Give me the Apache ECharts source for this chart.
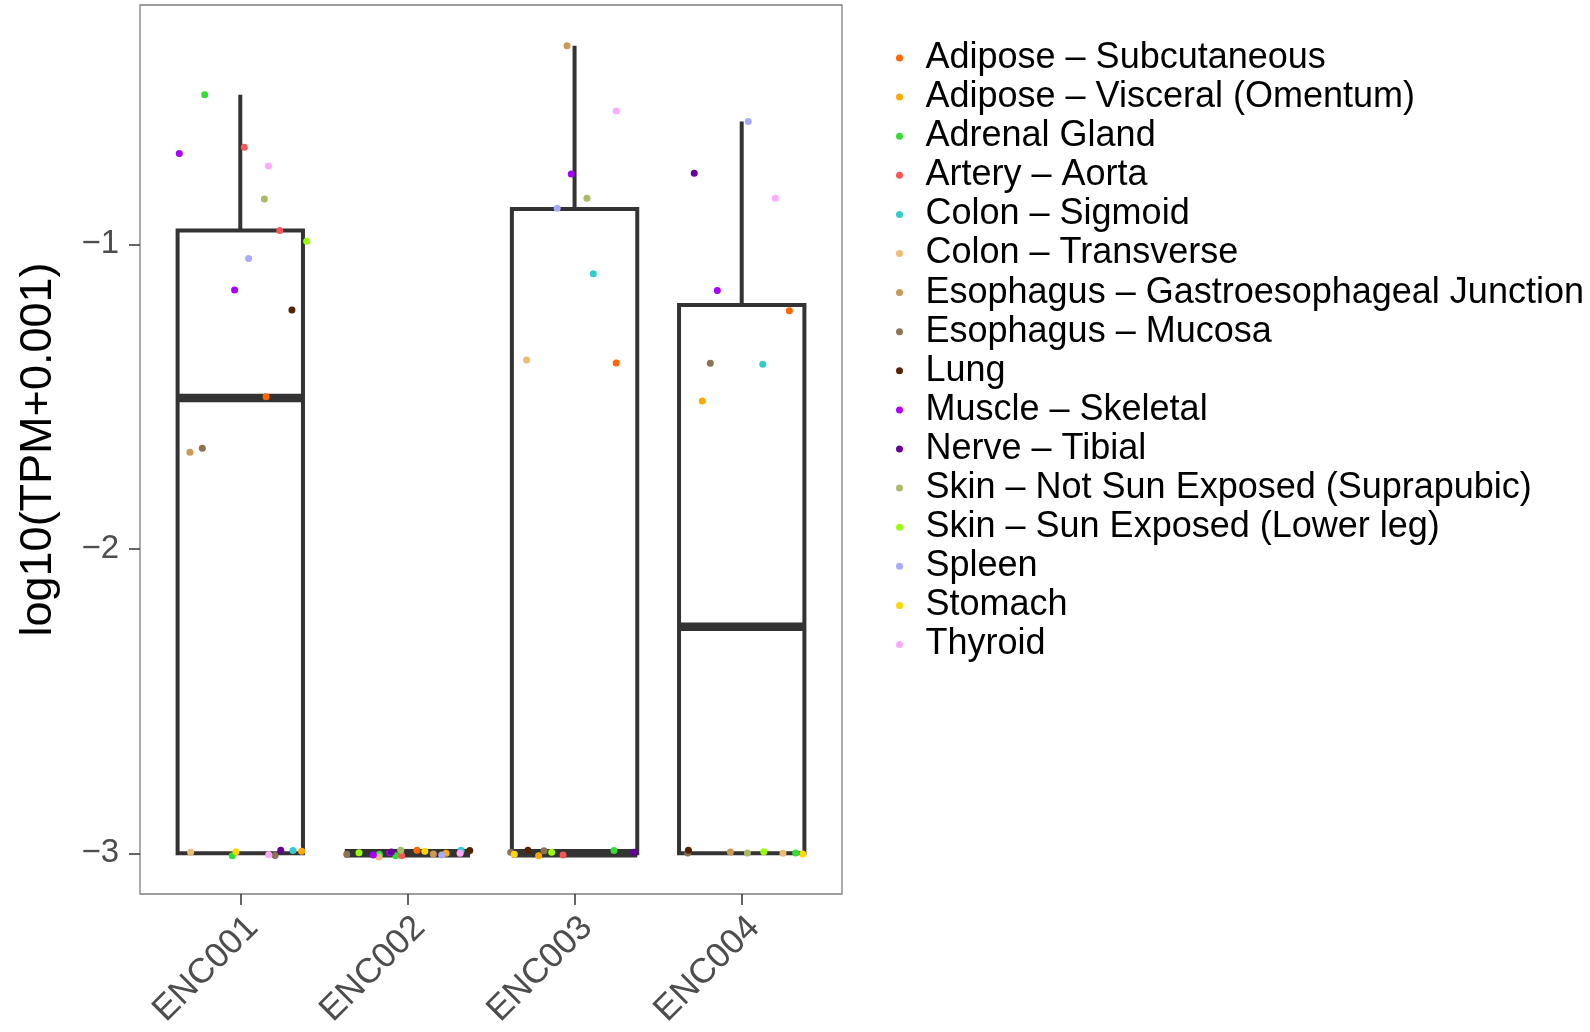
<!DOCTYPE html>
<html>
<head>
<meta charset="utf-8">
<title>log10(TPM+0.001) by ENC</title>
<script src="https://cdn.jsdelivr.net/npm/echarts@6/dist/echarts.min.js"></script>
<style>
  html, body { margin: 0; padding: 0; background: #ffffff; }
  #chart { width: 1590px; height: 1032px; }
</style>
</head>
<body>
<div id="chart"></div>
<script>
// Groups on the x axis
const categories = ['ENC001', 'ENC002', 'ENC003', 'ENC004'];

// Tissues (legend order) and their colours
const tissues = [
  'Adipose – Subcutaneous',
  'Adipose – Visceral (Omentum)',
  'Adrenal Gland',
  'Artery – Aorta',
  'Colon – Sigmoid',
  'Colon – Transverse',
  'Esophagus – Gastroesophageal Junction',
  'Esophagus – Mucosa',
  'Lung',
  'Muscle – Skeletal',
  'Nerve – Tibial',
  'Skin – Not Sun Exposed (Suprapubic)',
  'Skin – Sun Exposed (Lower leg)',
  'Spleen',
  'Stomach',
  'Thyroid'
];
const tissueColors = [
  '#FF6600', '#FFAA00', '#33DD33', '#FF5555', '#33CCCC', '#EEBB77',
  '#CC9955', '#8B7355', '#552200', '#AA00FF', '#660099', '#AABB66',
  '#99FF00', '#AAAAFF', '#FFD700', '#FFAAFF'
];

// Box statistics per group
const boxMin    = [-3, -3, -3, -3];
const boxQ1     = [-3, -3, -3, -3];
const boxMedian = [-1.505, -3, -3, -2.256];
const boxQ3     = [-0.955, -3, -0.884, -1.199];
const boxMax    = [-0.509, -3, -0.348, -0.597];

// Jittered samples per group: [tissue index, horizontal jitter, log10(TPM+0.001)]
const enc001Points = [
  [2, -0.213, -0.509], [9, -0.365, -0.702], [3, 0.024, -0.681], [15, 0.168, -0.743],
  [11, 0.144, -0.851], [3, 0.236, -0.955], [12, 0.397, -0.990], [13, 0.050, -1.047],
  [9, -0.034, -1.150], [8, 0.309, -1.216], [0, 0.154, -1.501], [7, -0.227, -1.670],
  [6, -0.301, -1.683],
  [5, -0.297, -2.997], [14, -0.026, -2.995], [2, -0.048, -3.008], [15, 0.170, -3.005],
  [7, 0.208, -3.007], [10, 0.242, -2.990], [4, 0.315, -2.991], [1, 0.367, -2.993]
];
const enc002Points = [
  [7, -0.363, -3.003], [12, -0.290, -2.998], [9, -0.204, -3.006], [5, -0.170, -3.012],
  [2, -0.168, -3.003], [9, -0.106, -2.998], [10, -0.096, -2.996], [2, -0.070, -3.008],
  [11, -0.040, -2.990], [3, -0.034, -3.008], [0, 0.057, -2.990], [14, 0.104, -2.993],
  [6, 0.155, -3.002], [13, 0.205, -3.006], [1, 0.231, -3.000], [4, 0.321, -2.990],
  [15, 0.315, -3.000], [8, 0.373, -2.991]
];
const enc003Points = [
  [6, -0.045, -0.348], [15, 0.249, -0.562], [9, -0.020, -0.769], [11, 0.074, -0.849],
  [13, -0.104, -0.882], [4, 0.112, -1.097], [5, -0.287, -1.380], [0, 0.249, -1.390],
  [7, -0.382, -2.997], [14, -0.361, -3.003], [8, -0.279, -2.990], [1, -0.215, -3.008],
  [7, -0.183, -2.992], [12, -0.137, -2.997], [3, -0.069, -3.006], [2, 0.236, -2.991],
  [10, 0.354, -2.997]
];
const enc004Points = [
  [13, 0.039, -0.597], [10, -0.284, -0.767], [15, 0.201, -0.849], [9, -0.146, -1.152],
  [0, 0.285, -1.218], [7, -0.188, -1.391], [4, 0.126, -1.394], [1, -0.236, -1.515],
  [8, -0.319, -2.990], [7, -0.323, -2.999], [6, -0.068, -2.996], [11, 0.034, -2.999],
  [12, 0.132, -2.995], [5, 0.247, -3.000], [2, 0.323, -2.999], [14, 0.365, -3.002]
];
const pointsByGroup = [enc001Points, enc002Points, enc003Points, enc004Points];

// Y tick labels
const yTicks = [-3, -2, -1];

// ---------------------------------------------------------------
const FONT = "'Liberation Sans', Arial, Helvetica, sans-serif";
const BOX_HALF = 0.375;
const INK = '#333333';

const boxData = categories.map((c, i) =>
  [i, boxMin[i], boxQ1[i], boxMedian[i], boxQ3[i], boxMax[i]]);

// one scatter series per tissue, so the legend lists each tissue
const scatterSeries = tissues.map((name, t) => {
  const data = [];
  pointsByGroup.forEach((pts, g) => {
    pts.forEach(p => { if (p[0] === t) data.push([g + p[1], p[2]]); });
  });
  return {
    name: name,
    type: 'scatter',
    data: data,
    symbol: 'circle',
    symbolSize: 7,
    itemStyle: { color: tissueColors[t], opacity: 1 },
    emphasis: { disabled: true },
    z: 3
  };
});

const chart = echarts.init(document.getElementById('chart'), null, { renderer: 'canvas' });

chart.setOption({
  backgroundColor: '#ffffff',
  animation: false,
  textStyle: { fontFamily: FONT },
  grid: {
    left: 140, top: 5, width: 702, height: 889,
    show: true, borderColor: '#7f7f7f', borderWidth: 1.3, backgroundColor: '#ffffff'
  },
  legend: {
    orient: 'vertical',
    left: 896, top: 40,
    padding: 0,
    itemWidth: 42, itemHeight: 7, itemGap: 3.1,
    icon: 'circle',
    selectedMode: false,
    textStyle: { fontSize: 36, color: '#000000', fontFamily: FONT, lineHeight: 36 },
    data: tissues
  },
  xAxis: {
    type: 'value',
    min: -0.6, max: 3.6,
    axisLine: { show: false, onZero: false },
    splitLine: { show: false },
    axisTick: {
      show: true, customValues: [0, 1, 2, 3], length: 11,
      lineStyle: { color: INK, width: 1.5 }
    },
    axisLabel: {
      customValues: [0, 1, 2, 3],
      rotate: 45, margin: 16,
      align: 'right', verticalAlign: 'top',
      fontSize: 35, color: '#4D4D4D', fontFamily: FONT,
      formatter: v => categories[Math.round(v)]
    }
  },
  yAxis: {
    type: 'value',
    min: -3.1337, max: -0.2142,
    axisLine: { show: false, onZero: false },
    splitLine: { show: false },
    axisTick: {
      show: true, customValues: yTicks, length: 11,
      lineStyle: { color: INK, width: 1.5 }
    },
    axisLabel: {
      customValues: yTicks, margin: 21,
      fontSize: 33, color: '#4D4D4D', fontFamily: FONT,
      formatter: v => String(v).replace('-', '\u2212')
    },
    name: 'log10(TPM+0.001)',
    nameLocation: 'middle',
    nameRotate: 90,
    nameGap: 79,
    nameTextStyle: { fontSize: 45, color: '#000000', fontFamily: FONT }
  },
  series: [
    {
      type: 'custom',
      name: 'box',
      data: boxData,
      z: 2,
      silent: true,
      renderItem: function (params, api) {
        const i = api.value(0);
        const lo = api.value(1), q1 = api.value(2), med = api.value(3);
        const q3 = api.value(4), hi = api.value(5);
        const top = api.coord([i, hi]);
        const bot = api.coord([i, lo]);
        const tl = api.coord([i - BOX_HALF, q3]);
        const br = api.coord([i + BOX_HALF, q1]);
        const mL = api.coord([i - BOX_HALF, med]);
        const mR = api.coord([i + BOX_HALF, med]);
        const stroke = { stroke: INK, lineWidth: 4, fill: null };
        return {
          type: 'group',
          children: [
            { type: 'line', shape: { x1: top[0], y1: tl[1], x2: top[0], y2: top[1] }, style: stroke },
            { type: 'line', shape: { x1: bot[0], y1: br[1], x2: bot[0], y2: bot[1] }, style: stroke },
            { type: 'rect', shape: { x: tl[0], y: tl[1], width: br[0] - tl[0], height: br[1] - tl[1] },
              style: { stroke: INK, lineWidth: 4, fill: null, lineJoin: 'miter' } },
            { type: 'line', shape: { x1: mL[0], y1: mL[1], x2: mR[0], y2: mR[1] },
              style: { stroke: INK, lineWidth: 8.5 } }
          ]
        };
      }
    }
  ].concat(scatterSeries)
});
</script>
</body>
</html>
